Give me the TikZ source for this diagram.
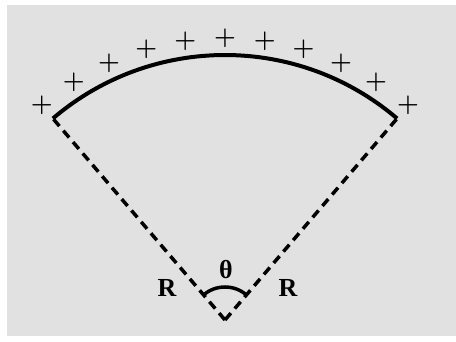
\documentclass[tikz,border=0pt]{standalone}
\usepackage{fontspec}
\newfontfamily\letterfont{Liberation Serif}
\usepackage{tikz}
\usetikzlibrary{positioning,calc}
\definecolor{SectorGray}{RGB}{225, 225, 225}

\begin{document}
\begin{tikzpicture}[x=1pt, y=1pt]
  \tikzstyle{spoke} = [draw=black, dash pattern=on 9pt off 6pt, line width=3.5pt]
  \tikzstyle{rim} = [draw=black, line width=4pt]
  \tikzstyle{charge} = [inner sep=0pt, font=\bfseries\fontsize{25}{25}\selectfont]
  \tikzstyle{lettering} = [inner sep=0pt, font=\letterfont\bfseries\fontsize{26}{26}\selectfont]

  \useasboundingbox (0,0) rectangle (456,342);
  \fill [SectorGray] (7,6) rectangle (456,337);

  \coordinate (apex) at (225,22);
  \coordinate (leftend) at ($(apex)+(130.5:265)$);
  \coordinate (rightend) at ($(apex)+(49.5:265)$);

  % charged arc
  \path [rim] (leftend) arc (130.5:49.5:265);
  \foreach \i in {0,...,10}
    \node [charge] (plus\i) at ($(apex)+({130.5-8.1*\i}:282)$) {+};

  % radii
  \path [spoke] (apex) -- (leftend);
  \path [spoke] (apex) -- (rightend);

  % angle
  \path [rim, line width=3.5pt] ($(apex)+(132:33)$) arc (132:48:33);
  \node [lettering] (theta) at (226,72) {θ};
  \node [lettering] (rleft) at (167,54) {R};
  \node [lettering] (rright) at (288,54) {R};
\end{tikzpicture}
\end{document}
